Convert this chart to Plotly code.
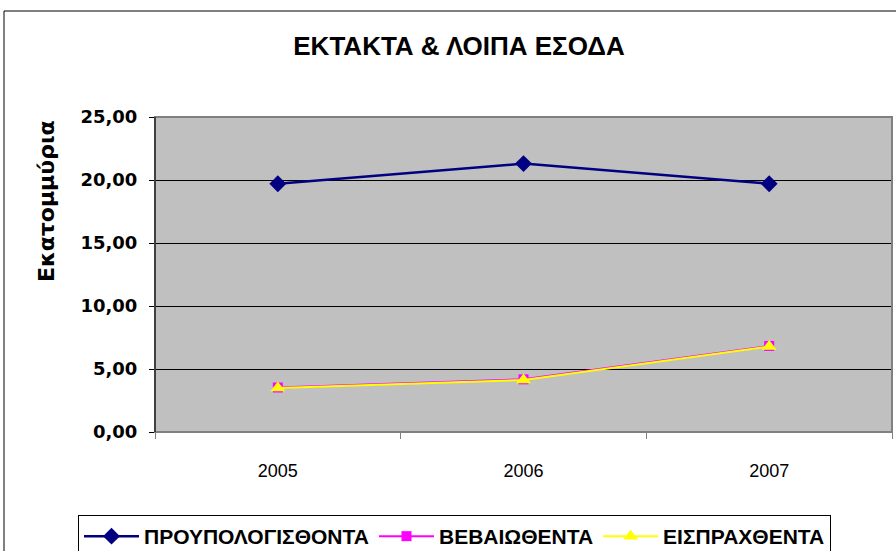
import plotly.graph_objects as go

years = ["2005", "2006", "2007"]
proypologisthenta = [19.70, 21.30, 19.70]
vevaiothenta = [3.53, 4.18, 6.83]
eispraxthenta = [3.50, 4.13, 6.78]
y_ticks = [0, 5, 10, 15, 20, 25]
y_ticklabels = ["0,00", "5,00", "10,00", "15,00", "20,00", "25,00"]

W, H = 896, 551
L, R, T, B = 155, 4, 117, 119
pw, ph = W - L - R, H - T - B

def px_x(x):
    return (x - L) / pw

def px_y(y):
    return (H - B - y) / ph

fig = go.Figure()
fig.add_trace(go.Scatter(
    x=years, y=proypologisthenta, name="<b>ΠΡΟΥΠΟΛΟΓΙΣΘΟΝΤΑ</b>", mode="lines+markers",
    line=dict(color="#000080", width=2.5),
    marker=dict(symbol="diamond", size=13, color="#000080")))
fig.add_trace(go.Scatter(
    x=years, y=vevaiothenta, name="<b>ΒΕΒΑΙΩΘΕΝΤΑ</b>", mode="lines+markers",
    line=dict(color="#FF00FF", width=2),
    marker=dict(symbol="square", size=10, color="#FF00FF")))
fig.add_trace(go.Scatter(
    x=years, y=eispraxthenta, name="<b>ΕΙΣΠΡΑΧΘΕΝΤΑ</b>", mode="lines+markers",
    line=dict(color="#FFFF00", width=2),
    marker=dict(symbol="triangle-up", size=13, color="#FFFF00")))

fig.update_layout(
    width=W, height=H,
    margin=dict(l=L, r=R, t=T, b=B, autoexpand=False),
    paper_bgcolor="white",
    plot_bgcolor="#C0C0C0",
    font=dict(family="Liberation Sans, Arial", color="black"),
    title=dict(text="<b>ΕΚΤΑΚΤΑ & ΛΟΙΠΑ ΕΣΟΔΑ</b>",
               font=dict(family="Liberation Sans, Arial", size=26, weight="bold"),
               x=px_x(459), xref="paper", xanchor="center",
               y=1 - 46 / H, yanchor="middle"),
    xaxis=dict(type="category", range=[-0.5, 2.5], tickson="boundaries",
               ticks="outside", ticklen=6, tickcolor="#808080",
               showline=True, linecolor="#808080", linewidth=1,
               showgrid=False, zeroline=False,
               tickfont=dict(family="Liberation Sans, Arial", size=18),
               ticklabelstandoff=22),
    yaxis=dict(range=[0, 25], tickvals=y_ticks, ticktext=y_ticklabels,
               ticks="outside", ticklen=5, tickcolor="black",
               showline=True, linecolor="black", linewidth=1,
               showgrid=True, gridcolor="black", gridwidth=1,
               zeroline=False,
               tickfont=dict(family="DejaVu Sans", size=18, weight="bold"),
               ticklabelstandoff=8),
    showlegend=True,
    legend=dict(orientation="h", x=px_x(78), xanchor="left",
                y=px_y(515), yanchor="top",
                bordercolor="black", borderwidth=1, bgcolor="white",
                itemwidth=55, tracegroupgap=0,
                font=dict(family="Liberation Sans, Arial", size=21, weight="bold")),
    shapes=[
        dict(type="rect", xref="paper", yref="paper",
             x0=0, x1=1, y0=0, y1=1,
             line=dict(color="#808080", width=2), layer="above"),
        dict(type="line", xref="paper", yref="paper",
             x0=0, x1=0, y0=0, y1=1,
             line=dict(color="black", width=1), layer="above"),
        dict(type="rect", xref="paper", yref="paper",
             x0=px_x(4), x1=px_x(905), y0=px_y(570), y1=px_y(11),
             line=dict(color="black", width=1), layer="below"),
    ],
    annotations=[
        dict(text="<b>Εκατομμύρια</b>", textangle=-90, xref="paper", yref="paper",
             x=px_x(46), y=px_y(201), xanchor="center", yanchor="middle",
             showarrow=False, font=dict(family="DejaVu Sans", size=22)),
    ],
)

fig.write_html("out.html", config={"displayModeBar": False},
               post_script="document.body.style.margin='0';document.body.style.overflow='hidden';")
